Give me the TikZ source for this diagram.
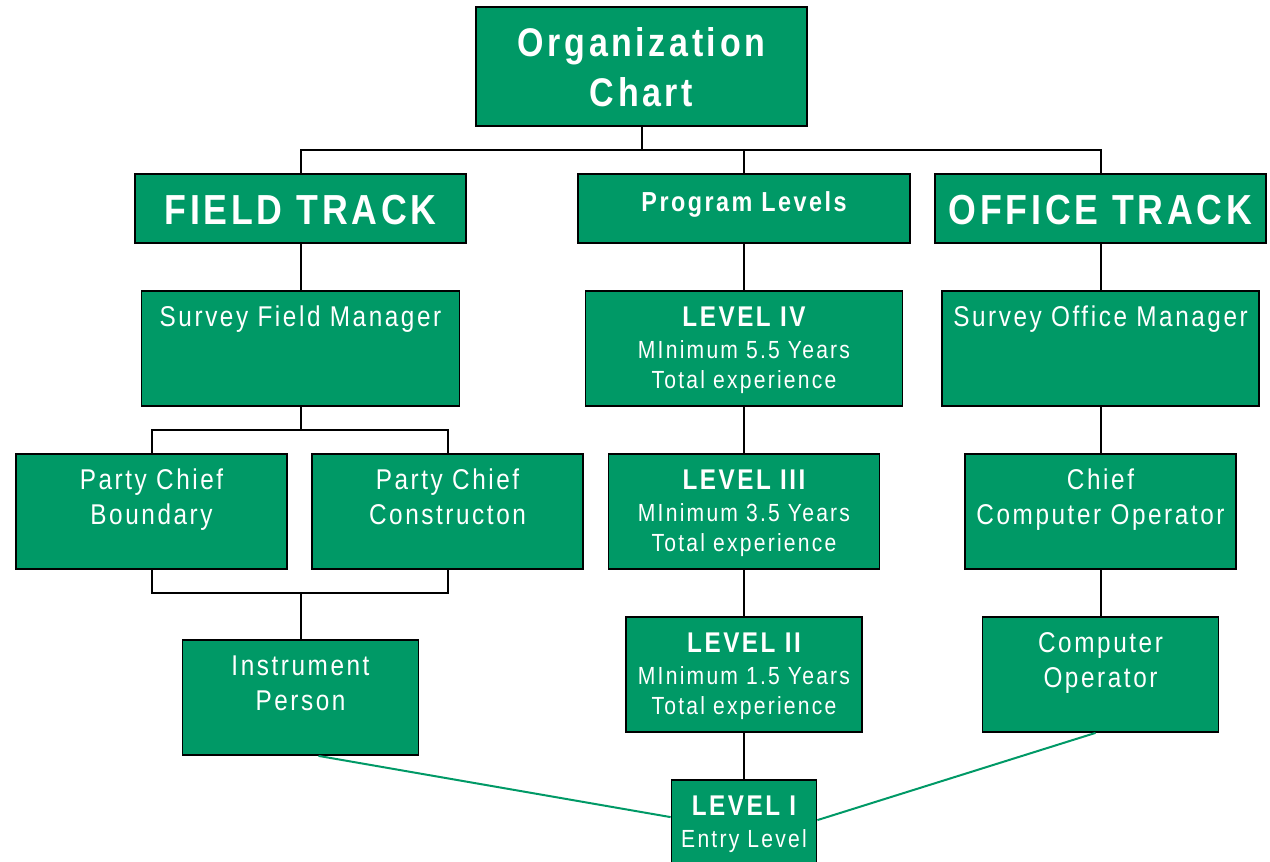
\documentclass[tikz,border=0pt]{standalone}
\usepackage{fontspec}
\setmainfont{Liberation Sans}[FakeStretch=0.85, LetterSpace=9]
\usetikzlibrary{calc}
\definecolor{boxgreen}{HTML}{009966}
\tikzset{
  box/.style={draw=black, line width=1.8pt, fill=boxgreen, inner sep=0pt},
  conn/.style={draw=black, line width=2pt},
  gconn/.style={draw=boxgreen, line width=2pt},
  txt/.style={anchor=base, text=white, inner sep=0pt},
  big/.style={txt, font=\bfseries\fontsize{40}{40}\selectfont},
  track/.style={txt, font=\bfseries\fontsize{42}{42}\selectfont},
  prg/.style={txt, font=\bfseries\fontsize{27.5}{27.5}\selectfont},
  reg/.style={txt, font=\fontsize{28.6}{28.6}\selectfont},
  lvl/.style={txt, font=\bfseries\fontsize{28.5}{28.5}\selectfont},
  sub/.style={txt, font=\fontsize{24.8}{24.8}\selectfont},
}
\begin{document}
\begin{tikzpicture}[x=1pt,y=-1pt]
\useasboundingbox (0,0) rectangle (1270,862);
% boxes
\node[box, minimum width=331pt, minimum height=119pt] (org) at (641.5,66.5) {};
\node[box, minimum width=331pt, minimum height=69pt] (field) at (300.5,208.5) {};
\node[box, minimum width=332pt, minimum height=69pt] (prog) at (744,208.5) {};
\node[box, minimum width=331pt, minimum height=69pt] (office) at (1100.5,208.5) {};
\node[box, minimum width=318pt, minimum height=115pt] (sfm) at (300.5,348.5) {};
\node[box, minimum width=317pt, minimum height=115pt] (l4) at (744,348.5) {};
\node[box, minimum width=317pt, minimum height=115pt] (som) at (1100.5,348.5) {};
\node[box, minimum width=271pt, minimum height=115pt] (pcb) at (151.5,511.5) {};
\node[box, minimum width=271pt, minimum height=115pt] (pcc) at (447.5,511.5) {};
\node[box, minimum width=271pt, minimum height=115pt] (l3) at (744,511.5) {};
\node[box, minimum width=271pt, minimum height=115pt] (cco) at (1100.5,511.5) {};
\node[box, minimum width=236pt, minimum height=115pt] (ip) at (300.5,697.5) {};
\node[box, minimum width=236pt, minimum height=115pt] (l2) at (744,674.5) {};
\node[box, minimum width=236pt, minimum height=115pt] (co) at (1100.5,674.5) {};
\node[box, minimum width=145pt, minimum height=115pt] (l1) at (744,837.5) {};
% texts
\node[big] (orgA) at ($(org.north)+(0,50)$) {Organization};
\node[big] (orgB) at ($(org.north)+(0,100)$) {Chart};
\node[track] (fieldT) at ($(field.north)+(0,51)$) {FIELD TRACK};
\node[prg] (progT) at ($(prog.north)+(0,38)$) {Program Levels};
\node[track] (officeT) at ($(office.north)+(0,51)$) {OFFICE TRACK};
\node[reg] (sfmT) at ($(sfm.north)+(0,36)$) {Survey Field Manager};
\node[lvl] (l4A) at ($(l4.north)+(0,36)$) {LEVEL IV};
\node[sub] (l4B) at ($(l4.north)+(0,68)$) {MInimum 5.5 Years};
\node[sub] (l4C) at ($(l4.north)+(0,98)$) {Total experience};
\node[reg] (somT) at ($(som.north)+(0,36)$) {Survey Office Manager};
\node[reg] (pcbA) at ($(pcb.north)+(0,36)$) {Party Chief};
\node[reg] (pcbB) at ($(pcb.north)+(0,71)$) {Boundary};
\node[reg] (pccA) at ($(pcc.north)+(0,36)$) {Party Chief};
\node[reg] (pccB) at ($(pcc.north)+(0,71)$) {Constructon};
\node[lvl] (l3A) at ($(l3.north)+(0,36)$) {LEVEL III};
\node[sub] (l3B) at ($(l3.north)+(0,68)$) {MInimum 3.5 Years};
\node[sub] (l3C) at ($(l3.north)+(0,98)$) {Total experience};
\node[reg] (ccoA) at ($(cco.north)+(0,36)$) {Chief};
\node[reg] (ccoB) at ($(cco.north)+(0,71)$) {Computer Operator};
\node[reg] (ipA) at ($(ip.north)+(0,36)$) {Instrument};
\node[reg] (ipB) at ($(ip.north)+(0,71)$) {Person};
\node[lvl] (l2A) at ($(l2.north)+(0,36)$) {LEVEL II};
\node[sub] (l2B) at ($(l2.north)+(0,68)$) {MInimum 1.5 Years};
\node[sub] (l2C) at ($(l2.north)+(0,98)$) {Total experience};
\node[reg] (coA) at ($(co.north)+(0,36)$) {Computer};
\node[reg] (coB) at ($(co.north)+(0,71)$) {Operator};
\node[lvl] (l1A) at ($(l1.north)+(0,36)$) {LEVEL I};
\node[sub] (l1B) at ($(l1.north)+(0,68)$) {Entry Level};
% connectors
\coordinate (j1) at (641,150);
\coordinate (j2) at (300,430);
\coordinate (j3) at (300,593);
\draw[conn] (org.south) -- (org.south |- j1);
\draw[conn] (field.north) -- (field.north |- j1) -- (office.north |- j1) -- (office.north);
\draw[conn] (prog.north) -- (prog.north |- j1);
\draw[conn] (field.south) -- (sfm.north);
\draw[conn] (sfm.south) -- (sfm.south |- j2);
\draw[conn] (pcb.north) -- (pcb.north |- j2) -- (pcc.north |- j2) -- (pcc.north);
\draw[conn] (pcb.south) -- (pcb.south |- j3) -- (pcc.south |- j3) -- (pcc.south);
\draw[conn] (ip.north) -- (ip.north |- j3);
\draw[conn] (prog.south) -- (l4.north);
\draw[conn] (l4.south) -- (l3.north);
\draw[conn] (l3.south) -- (l2.north);
\draw[conn] (l2.south) -- (l1.north);
\draw[conn] (office.south) -- (som.north);
\draw[conn] (som.south) -- (cco.north);
\draw[conn] (cco.south) -- (co.north);
\draw[gconn] ($(ip.south)+(18,0)$) -- ($(l1.north west)+(0,38)$);
\draw[gconn] ($(l1.north east)+(0,41)$) -- ($(co.south)+(-5,0)$);
\end{tikzpicture}
\end{document}
